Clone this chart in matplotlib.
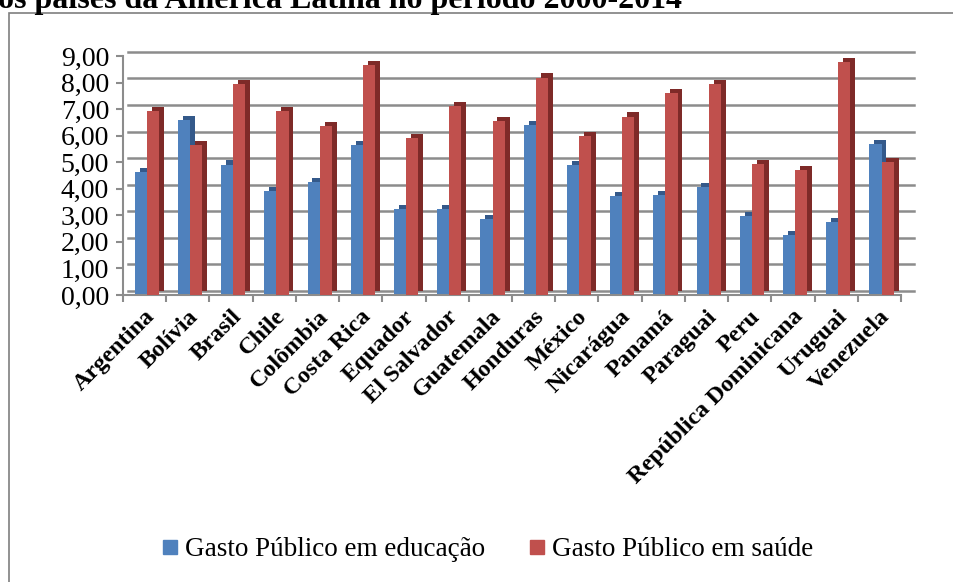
import matplotlib
matplotlib.use("Agg")
import matplotlib.pyplot as plt
import matplotlib.transforms as mtransforms
from matplotlib.patches import Rectangle
from matplotlib.lines import Line2D
import numpy as np

countries = ["Argentina", "Bolívia", "Brasil", "Chile", "Colômbia", "Costa Rica",
             "Equador", "El Salvador", "Guatemala", "Honduras", "México", "Nicarágua",
             "Panamá", "Paraguai", "Peru", "República Dominicana", "Uruguai", "Venezuela"]
educacao = [4.62, 6.59, 4.91, 3.91, 4.26, 5.63, 3.25, 3.25, 2.87, 6.40, 4.90, 3.72,
            3.75, 4.06, 2.98, 2.25, 2.75, 5.69]
saude = [6.94, 5.63, 7.94, 6.94, 6.35, 8.65, 5.91, 7.10, 6.56, 8.19, 6.00, 6.72,
         7.59, 7.94, 4.94, 4.69, 8.78, 5.00]
yticks = [0, 1, 2, 3, 4, 5, 6, 7, 8, 9]
ytick_labels = ["0,00", "1,00", "2,00", "3,00", "4,00", "5,00", "6,00", "7,00", "8,00", "9,00"]
title = "os países da América Latina no período 2000-2014"
legend_labels = ["Gasto Público em educação", "Gasto Público em saúde"]

blue, blue_dark = "#4F81BD", "#34598A"
red, red_dark = "#C0504D", "#7E2A28"
grid_col = "#8C8C8C"
serif = ["Liberation Serif", "DejaVu Serif"]

fig = plt.figure(figsize=(9.54, 5.82), dpi=100)
fig.patch.set_facecolor("white")

# chart-area border (right and bottom edges fall outside the image)
fig.add_artist(Rectangle((9 / 954, -0.05), 1.0, (582 - 13) / 582 + 0.05,
                         transform=fig.transFigure, fill=False, edgecolor="#7F7F7F", lw=1.2))
fig.text(-0.002, 1.0 - 8 / 582, title, fontsize=23, fontweight="bold", family=serif,
         ha="left", va="baseline")

ax = fig.add_axes([123 / 954, (582 - 295) / 582, (901 - 123) / 954, (295 - 56) / 582])
x = np.arange(len(countries))
w = 0.28
dx, dy = 3.5, 3.0  # depth in points
off = mtransforms.offset_copy(ax.transData, fig=fig, x=dx, y=dy, units="points")
yoff = mtransforms.offset_copy(ax.get_yaxis_transform(), fig=fig, x=dx, y=dy, units="points")

for t in yticks:
    ax.plot([0, 1.01], [t, t], color=grid_col, lw=1.8, zorder=0.5, transform=yoff,
            clip_on=False)

xb = x + 0.05
ax.bar(xb - w / 2, educacao, w, color=blue_dark, transform=off, zorder=1)
ax.bar(xb - w / 2, educacao, w, color=blue, zorder=2)
ax.bar(xb + w / 2, saude, w, color=red_dark, transform=off, zorder=3)
ax.bar(xb + w / 2, saude, w, color=red, zorder=4)

ax.set_xlim(-0.5, len(countries) - 0.5)
ax.set_ylim(0, 9)
ax.set_yticks(yticks)
ax.set_yticklabels(ytick_labels, fontsize=20, family=serif)
ax.set_xticks(x)
ax.set_xticklabels(countries, rotation=45, ha="right", rotation_mode="anchor",
                   fontsize=17.5, fontweight="bold", family=serif)
ax.set_xticks(np.arange(-0.5, len(countries)), minor=True)
ax.tick_params(axis="x", which="major", length=0, pad=8)
ax.tick_params(axis="x", which="minor", length=5, color=grid_col, width=1.5)
ax.tick_params(axis="y", length=5, color=grid_col, width=1.5, pad=5)
for s in ["top", "right"]:
    ax.spines[s].set_visible(False)
for s in ["left", "bottom"]:
    ax.spines[s].set_color(grid_col)
    ax.spines[s].set_linewidth(1.5)
ax.set_facecolor("none")

handles = [Line2D([], [], marker="s", ls="none", markersize=10, color=blue),
           Line2D([], [], marker="s", ls="none", markersize=10, color=red)]
fig.legend(handles, legend_labels, loc="center", bbox_to_anchor=(0.511, 1 - 550 / 582),
           ncol=2, frameon=False, prop={"family": serif, "size": 19.5},
           handletextpad=0.25, columnspacing=1.6, handlelength=0.6)

fig.savefig("out.png", dpi=100)
